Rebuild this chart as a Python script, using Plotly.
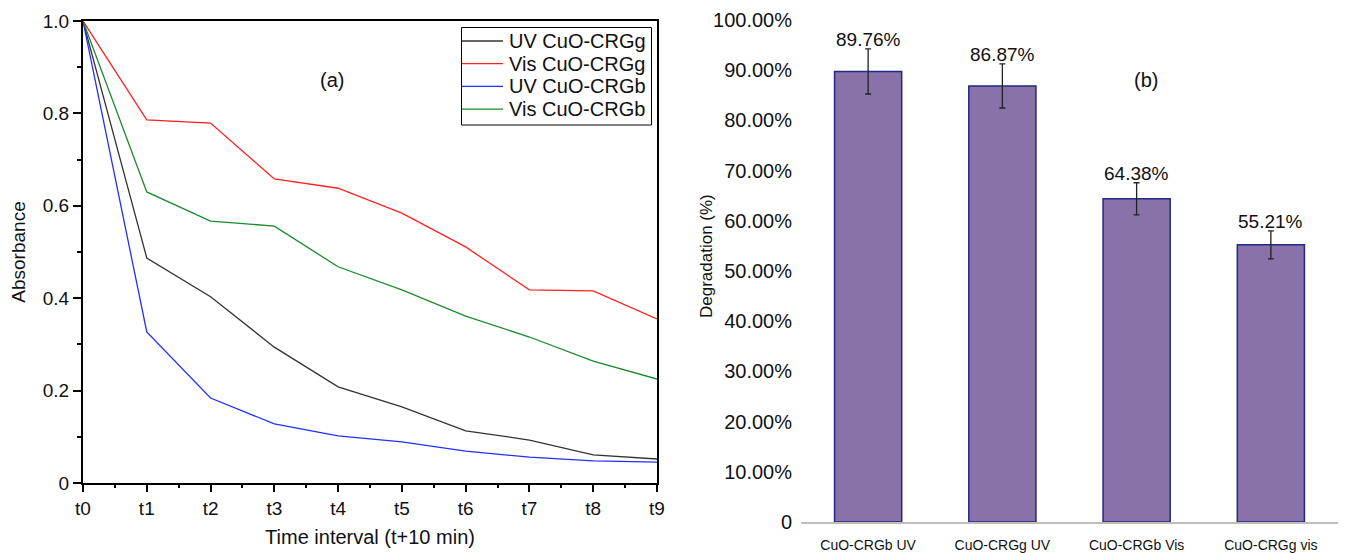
import plotly.graph_objects as go

# ---- data: panel (a) ----
time_labels = ["t0", "t1", "t2", "t3", "t4", "t5", "t6", "t7", "t8", "t9"]
uv_crgg = [1.0, 0.487, 0.403, 0.294, 0.208, 0.165, 0.113, 0.093, 0.061, 0.052]
vis_crgg = [1.0, 0.786, 0.779, 0.658, 0.638, 0.584, 0.511, 0.418, 0.416, 0.355]
uv_crgb = [1.0, 0.327, 0.184, 0.128, 0.102, 0.089, 0.069, 0.056, 0.048, 0.045]
vis_crgb = [1.0, 0.630, 0.567, 0.556, 0.468, 0.418, 0.361, 0.316, 0.264, 0.225]
series_names = ["UV CuO-CRGg", "Vis CuO-CRGg", "UV CuO-CRGb", "Vis CuO-CRGb"]
series_colors = ["#333333", "#ff2020", "#2030ff", "#1a8a2a"]

# ---- data: panel (b) ----
samples = ["CuO-CRGb UV", "CuO-CRGg UV", "CuO-CRGb Vis", "CuO-CRGg vis"]
degradation = [89.76, 86.87, 64.38, 55.21]
deg_error = [4.5, 4.4, 3.2, 2.8]

abs_ticks = [0, 0.2, 0.4, 0.6, 0.8, 1.0]
abs_ticktext = ["0", "0.2", "0.4", "0.6", "0.8", "1.0"]
deg_ticks = [0, 10, 20, 30, 40, 50, 60, 70, 80, 90, 100]
deg_ticktext = ["0"] + [f"{v:.2f}%" for v in deg_ticks[1:]]

W, H = 1351, 553
OFF = 8  # page body margin of the rendered html
FONT = "Liberation Sans, Arial, Helvetica, sans-serif"
TXT = "#111111"


def px(x):
    return (x - OFF) / W


def py(y):
    return 1 - (y - OFF) / H


fig = go.Figure()
xidx = list(range(len(time_labels)))
all_series = [uv_crgg, vis_crgg, uv_crgb, vis_crgb]
for name, vals, col in zip(series_names, all_series, series_colors):
    fig.add_trace(go.Scatter(x=xidx, y=vals, mode="lines", name=name,
                             line=dict(color=col, width=1.3),
                             xaxis="x", yaxis="y", showlegend=False))

fig.add_trace(go.Bar(x=samples, y=degradation, width=0.5,
                     marker=dict(color="#8872a9", line=dict(color="#1f2a80", width=1.5)),
                     error_y=dict(type="data", array=deg_error, color="#222222",
                                  thickness=1.3, width=3),
                     xaxis="x2", yaxis="y2", showlegend=False))

annotations = []
shapes = []
for s, v, e in zip(samples, degradation, deg_error):
    annotations.append(dict(x=s, y=v + e, xref="x2", yref="y2", text=f"{v:.2f}%",
                            showarrow=False, yanchor="bottom", yshift=-3,
                            font=dict(size=19, color=TXT, family=FONT)))
annotations.append(dict(x=px(318), y=py(67), xref="paper", yref="paper", text="(a)",
                        showarrow=False, font=dict(size=20, color=TXT, family=FONT)))
annotations.append(dict(x=px(1160), y=py(67), xref="paper", yref="paper", text="(b)",
                        showarrow=False, font=dict(size=20, color=TXT, family=FONT)))
annotations.append(dict(x=px(706), y=py(256), xref="paper", yref="paper",
                        text="Degradation (%)", textangle=-90, showarrow=False,
                        font=dict(size=17, color=TXT, family=FONT)))

# legend (drawn manually to match the compact original)
shapes.append(dict(type="rect", xref="paper", yref="paper",
                   x0=px(461.5), x1=px(651.5), y0=py(125), y1=py(27.5),
                   line=dict(color="black", width=1), fillcolor="white", layer="above"))
for i, (name, col) in enumerate(zip(series_names, series_colors)):
    yy = 41 + i * 22.7
    shapes.append(dict(type="line", xref="paper", yref="paper",
                       x0=px(462), x1=px(503), y0=py(yy), y1=py(yy),
                       line=dict(color=col, width=1.3), layer="above"))
    annotations.append(dict(x=px(507), y=py(yy), xref="paper", yref="paper", text=name,
                            showarrow=False, xanchor="left", yanchor="middle",
                            font=dict(size=20, color=TXT, family=FONT)))

axis_common = dict(automargin=False, showgrid=False, zeroline=False)

fig.update_layout(
    template="none",
    width=W, height=H,
    margin=dict(l=0, r=0, t=0, b=0),
    paper_bgcolor="white", plot_bgcolor="white",
    font=dict(family=FONT, color=TXT, size=19),
    annotations=annotations,
    shapes=shapes,
    showlegend=False,
    xaxis=dict(domain=[px(83), px(657)], range=[0, 9],
               tickvals=xidx, ticktext=time_labels,
               showline=True, linecolor="black", linewidth=2, mirror=True,
               ticks="outside", ticklen=7, tickwidth=1.5, tickcolor="black",
               minor=dict(dtick=0.5, tick0=0, ticks="outside", ticklen=3,
                          tickwidth=1.5, tickcolor="black"),
               tickfont=dict(size=19),
               title=dict(text="Time interval (t+10 min)", font=dict(size=20), standoff=12),
               anchor="y", **axis_common),
    yaxis=dict(domain=[py(483), py(21)], range=[0, 1.0],
               tickvals=abs_ticks, ticktext=abs_ticktext,
               showline=True, linecolor="black", linewidth=2, mirror=True,
               ticks="outside", ticklen=8, tickwidth=1.5, tickcolor="black",
               minor=dict(dtick=0.1, tick0=0, ticks="outside", ticklen=4,
                          tickwidth=1.5, tickcolor="black"),
               tickfont=dict(size=19),
               title=dict(text="Absorbance", font=dict(size=19), standoff=12),
               anchor="x", **axis_common),
    xaxis2=dict(domain=[px(801), px(1338)], showline=True, linecolor="#bdbdbd", linewidth=2,
                ticks="outside", ticklen=9, tickcolor="rgba(0,0,0,0)",
                tickfont=dict(size=14), anchor="y2", **axis_common),
    yaxis2=dict(domain=[py(522), py(20)], range=[0, 100],
                tickvals=deg_ticks, ticktext=deg_ticktext,
                showline=False, ticks="outside", ticklen=4, tickcolor="rgba(0,0,0,0)",
                tickfont=dict(size=20),
                anchor="x2", **axis_common),
)

fig.write_html("out.html")
